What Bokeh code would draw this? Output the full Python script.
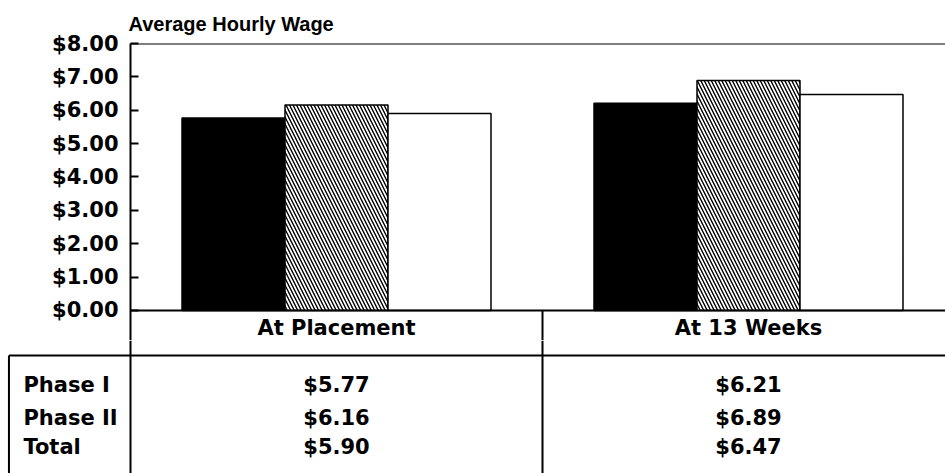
from bokeh.plotting import figure
from bokeh.layouts import column
from bokeh.models import (ColumnDataSource, Range1d, FixedTicker, NumeralTickFormatter, Span)
from bokeh.transform import dodge
from bokeh.core.properties import value
from bokeh.embed import file_html
from bokeh.resources import INLINE

# ---- data ----
categories = ["At Placement", "At 13 Weeks"]
series = ["Phase I", "Phase II", "Total"]
phase1 = [5.77, 6.21]
phase2 = [6.16, 6.89]
total = [5.90, 6.47]
y_ticks = [0, 1, 2, 3, 4, 5, 6, 7, 8]

FONT = "DejaVu Sans"
TFS = "21px"

W, H = 945, 473
TOP_H = 340
FRAME_LEFT = 130
FRAME_TOP = 43
PX_X = 412.0    # pixels per category
PX_Y = 33.36    # pixels per dollar

cat_x = [i + 0.5 for i in range(len(categories))]
x_end = (W - FRAME_LEFT) / PX_X
y_top_bottom = 8 - (TOP_H - FRAME_TOP) / PX_Y
y_bottom = y_top_bottom - (H - TOP_H) / PX_Y

# ---- top: chart ----
p = figure(width=W, height=TOP_H,
           x_range=Range1d(0, x_end), y_range=Range1d(y_top_bottom, 8),
           output_backend="svg", toolbar_location=None,
           x_axis_location=None, frame_align=False,
           min_border_left=FRAME_LEFT, min_border_right=0,
           min_border_top=FRAME_TOP, min_border_bottom=0)
p.grid.visible = False
p.outline_line_color = None

p.title.text = "Average Hourly Wage"
p.title.text_font = "Liberation Sans"
p.title.text_font_size = "20px"
p.title.text_font_style = "bold"
p.title.text_color = "black"
p.title.align = "left"
p.title.offset = -2
p.title.standoff = 18

ax = p.yaxis[0]
ax.ticker = FixedTicker(ticks=y_ticks)
ax.formatter = NumeralTickFormatter(format="$0.00")
ax.major_tick_in = 8
ax.major_tick_out = 0
ax.minor_tick_line_color = None
ax.major_tick_line_width = 2
ax.axis_line_width = 2
ax.axis_line_color = "black"
ax.major_label_text_font = FONT
ax.major_label_text_font_size = TFS
ax.major_label_text_font_style = "bold"
ax.major_label_text_color = "black"
ax.major_label_standoff = 12

src = ColumnDataSource(dict(x=cat_x, phase1=phase1, phase2=phase2, total=total))
bw = 0.25
p.vbar(x=dodge("x", -bw, range=p.x_range), top="phase1", width=bw, bottom=0, source=src,
       fill_color="black", line_color="black", line_width=1.5)
p.vbar(x=dodge("x", 0, range=p.x_range), top="phase2", width=bw, bottom=0, source=src,
       fill_color="white", line_color="black", line_width=1.5,
       hatch_pattern="\\", hatch_color="black", hatch_scale=7, hatch_weight=1.4)
p.vbar(x=dodge("x", bw, range=p.x_range), top="total", width=bw, bottom=0, source=src,
       fill_color="white", line_color="black", line_width=1.5)

p.add_layout(Span(location=8, dimension="width", line_color="black", line_width=2))
p.add_layout(Span(location=0, dimension="width", line_color="black", line_width=2))

bounds = list(range(1, len(categories)))
p.segment(x0=bounds, y0=[0] * len(bounds), x1=bounds, y1=[y_top_bottom] * len(bounds),
          line_color="black", line_width=2)

header_y = -0.54
p.text(x=cat_x, y=[header_y] * len(categories), text=categories,
       text_font=value(FONT), text_font_size=TFS, text_font_style="bold",
       text_align="center", text_baseline="middle", text_color="black")

# ---- bottom: table ----
x_left = -FRAME_LEFT / PX_X
t = figure(width=W, height=H - TOP_H,
           x_range=Range1d(x_left, x_end), y_range=Range1d(y_bottom, y_top_bottom),
           output_backend="svg", toolbar_location=None,
           x_axis_location=None, y_axis_location=None, frame_align=False,
           min_border_left=0, min_border_right=0, min_border_top=0, min_border_bottom=0)
t.grid.visible = False
t.outline_line_color = None

header_line = -1.35
row_y = [-2.25, -3.24, -4.11]
box_left = -0.295
label_x = -0.26

t.segment(x0=[box_left], y0=[header_line], x1=[x_end], y1=[header_line],
          line_color="black", line_width=2)
vx = [box_left] + [0] + bounds
vy0 = [header_line] + [y_top_bottom] * (1 + len(bounds))
t.segment(x0=vx, y0=vy0, x1=vx, y1=[y_bottom] * len(vx), line_color="black", line_width=2)

for name, vals, ry in zip(series, [phase1, phase2, total], row_y):
    t.text(x=cat_x, y=[ry] * len(vals), text=[f"${v:.2f}" for v in vals],
           text_font=value(FONT), text_font_size=TFS, text_font_style="bold",
           text_align="center", text_baseline="middle", text_color="black")
    t.text(x=[label_x], y=[ry], text=[name],
           text_font=value(FONT), text_font_size=TFS, text_font_style="bold",
           text_align="left", text_baseline="middle", text_color="black")

layout = column(p, t, spacing=0)
open("out.html", "w").write(file_html(layout, INLINE))
